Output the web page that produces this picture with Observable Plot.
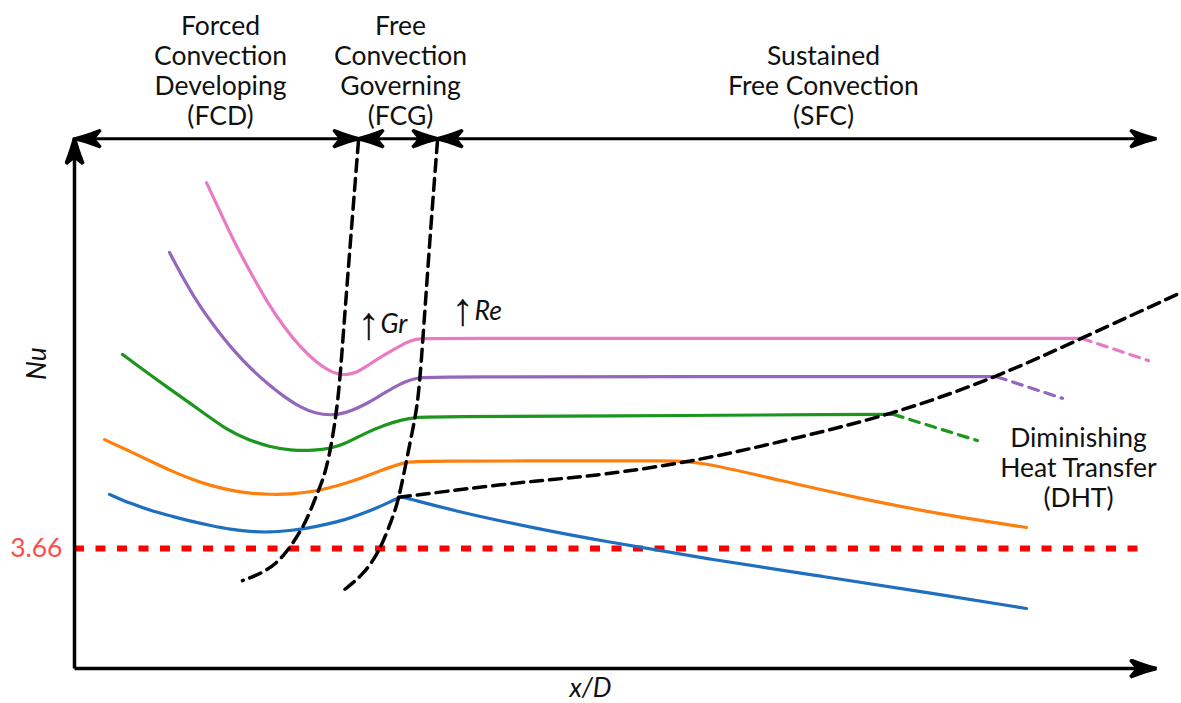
<!DOCTYPE html>
<html><head><meta charset="utf-8">
<script src="https://cdn.jsdelivr.net/npm/d3@7"></script>
<script src="https://cdn.jsdelivr.net/npm/@observablehq/plot@0.6"></script>
<style>html,body{margin:0;padding:0;background:#fff} svg{display:block}</style>
</head><body><div id="chart"></div>
<script>
// ---- schematic data: x/D (arbitrary units) and Nu ----
const pinkX   = [13.2,14.6,15.9,17.6,19.3,20.9,22.6,24.3,25.9,27.1,28.3,29.3,30.9,32.6,33.6,34.6,37.0,62.6,96.0,100.7];
const pinkNu  = [14.82,13.91,13.05,12.08,11.16,10.43,9.79,9.30,9.00,8.94,9.03,9.24,9.55,9.85,10.00,10.07,10.07,10.07,10.07,10.07];
const pinkDashX  = [100.7,107.4];
const pinkDashNu = [10.07,9.39];

const purpleX  = [9.5,11.1,12.6,14.3,15.9,17.6,19.3,20.9,22.6,24.1,25.6,27.1,29.3,30.9,32.6,33.6,34.6,37.0,62.0,88.0,92.2];
const purpleNu = [12.69,11.77,11.01,10.31,9.70,9.15,8.69,8.30,7.96,7.78,7.72,7.78,8.08,8.39,8.69,8.81,8.88,8.90,8.90,8.90,8.90];
const purpleDashX  = [92.2,98.8];
const purpleDashNu = [8.90,8.24];

const greenX  = [4.8,7.1,9.3,12.6,15.3,17.6,19.4,21.6,24.0,25.6,27.1,29.0,31.1,32.8,34.0,36.5,52.6,78.0,81.9];
const greenNu = [9.58,9.06,8.57,7.87,7.26,6.95,6.77,6.65,6.65,6.71,6.86,7.17,7.44,7.59,7.66,7.68,7.70,7.75,7.75];
const greenDashX  = [81.9,90.3];
const greenDashNu = [7.75,6.95];

const orangeX  = [3.0,5.6,7.9,9.8,11.8,13.6,15.6,17.6,19.4,21.6,24.0,25.6,27.1,29.1,30.9,32.1,33.2,35.5,50.0,59.0,62.4,70.6,78.5,86.6,95.2];
const orangeNu = [6.98,6.62,6.28,6.01,5.76,5.58,5.43,5.34,5.31,5.31,5.40,5.52,5.64,5.86,6.07,6.19,6.31,6.33,6.33,6.33,6.33,5.73,5.19,4.70,4.30];

const blueX  = [3.5,5.6,7.9,9.8,11.8,13.6,15.6,17.6,19.4,21.6,23.2,25.1,27.1,28.6,30.1,31.4,32.3,32.6,33.2,38.6,46.2,52.6,63.7,74.8,85.9,95.2];
const blueNu = [5.31,5.03,4.79,4.64,4.48,4.36,4.24,4.18,4.15,4.21,4.27,4.39,4.54,4.70,4.88,5.06,5.19,5.24,5.20,4.76,4.27,3.90,3.32,2.81,2.29,1.83];

// regime boundaries (black dashed)
const fcdX  = [28.4,27.6,26.9,26.4,25.6,25.0,24.4,23.2,22.5,21.5,20.2,18.7,16.8];
const fcdNu = [16.10,13.05,10.31,8.17,6.65,5.89,5.43,4.51,4.15,3.66,3.20,2.90,2.68];
const fcgX  = [36.3,35.6,34.9,34.4,33.8,33.2,32.4,31.7,30.9,30.3,29.0,26.9];
const fcgNu = [16.10,13.36,10.31,8.17,7.26,6.34,5.12,4.51,3.90,3.51,2.90,2.38];
const dhtX  = [32.4,38.6,46.2,52.6,62.4,71.1,81.9,92.2,100.7,110.7];
const dhtNu = [5.22,5.46,5.73,5.89,6.34,6.95,7.75,8.88,10.07,11.47];

// fully developed laminar limit
const limitNu = 3.66;
const limitLabel = "3.66";

// regime bracket along the top
const regimeNames  = ["Forced\nConvection\nDeveloping\n(FCD)", "Free\nConvection\nGoverning\n(FCG)", "Sustained\nFree Convection\n(SFC)"];
const regimeStart  = [0.1, 28.4, 36.3];
const regimeEnd    = [28.4, 36.3, 108.1];
const regimeLabelX = [14.6, 32.6, 74.9];
const bracketNu = 16.16;

// axis extents
const axisXEnd = 108.1;
const axisNuEnd = 16.16;

// annotations
const dhtLabel = "Diminishing\nHeat Transfer\n(DHT)";
const trendArrows = ["↑", "↑"];
const trendNames  = ["Gr", "Re"];
const trendArrowX = [29.4, 38.8];
const trendArrowNu = [10.05, 10.47];
const trendNameX  = [30.6, 40.0];
const trendNu     = [10.22, 10.64];

const series = [
  {x: pinkX, y: pinkNu, color: "#ea7ac3", dash: null},
  {x: pinkDashX, y: pinkDashNu, color: "#ea7ac3", dash: "10,7"},
  {x: purpleX, y: purpleNu, color: "#9467bd", dash: null},
  {x: purpleDashX, y: purpleDashNu, color: "#9467bd", dash: "10,7"},
  {x: greenX, y: greenNu, color: "#1c961c", dash: null},
  {x: greenDashX, y: greenDashNu, color: "#1c961c", dash: "10,7"},
  {x: orangeX, y: orangeNu, color: "#ff7f0e", dash: null},
  {x: blueX, y: blueNu, color: "#1f6fc0", dash: null}
];
const bounds = [
  {x: fcdX, y: fcdNu},
  {x: fcgX, y: fcgNu},
  {x: dhtX, y: dhtNu}
];
const toRows = (xs, ys) => xs.map((x, i) => ({x, y: ys[i]}));

function stealth(color, context) {
  const ns = "http://www.w3.org/2000/svg";
  const doc = context.document;
  const m = doc.createElementNS(ns, "marker");
  m.setAttribute("viewBox", "-27 -10 29 20");
  m.setAttribute("markerWidth", 29);
  m.setAttribute("markerHeight", 20);
  m.setAttribute("markerUnits", "userSpaceOnUse");
  m.setAttribute("refX", 0);
  m.setAttribute("refY", 0);
  m.setAttribute("orient", "auto-start-reverse");
  const p = doc.createElementNS(ns, "path");
  p.setAttribute("d", "M1,0 Q-10,-2.5 -25,-8.5 L-18,0 L-25,8.5 Q-10,2.5 1,0Z");
  p.setAttribute("fill", color);
  m.appendChild(p);
  return m;
}

const font = "Lato, 'Open Sans', sans-serif";
const fs = 26.5;
const marks = [];

// red limit line
marks.push(Plot.ruleY([limitNu], {x1: 0, x2: 107.5, stroke: "#ff0000", strokeWidth: 6, strokeDasharray: "10,11.5"}));

// curves
for (const s of series) {
  marks.push(Plot.line(toRows(s.x, s.y), {x: "x", y: "y", stroke: s.color, strokeWidth: 3.2,
    strokeDasharray: s.dash ?? undefined, curve: s.dash ? "linear" : "basis"}));
}
for (const b of bounds) {
  marks.push(Plot.line(toRows(b.x, b.y), {x: "x", y: "y", stroke: "#000", strokeWidth: 3.5,
    strokeDasharray: "12,7", curve: "basis"}));
}

// axes
marks.push(Plot.link([{x1: 0, y1: 0, x2: 0, y2: axisNuEnd}], {x1: "x1", y1: "y1", x2: "x2", y2: "y2",
  stroke: "#000", strokeWidth: 3.5, markerEnd: stealth}));
marks.push(Plot.link([{x1: 0, y1: 0, x2: axisXEnd, y2: 0}], {x1: "x1", y1: "y1", x2: "x2", y2: "y2",
  stroke: "#000", strokeWidth: 3.5, markerEnd: stealth}));

// regime bracket
const regimes = regimeNames.map((name, i) => ({name, x1: regimeStart[i], x2: regimeEnd[i], lx: regimeLabelX[i]}));
marks.push(Plot.link(regimes, {x1: "x1", x2: "x2", y1: bracketNu, y2: bracketNu,
  stroke: "#000", strokeWidth: 3, markerStart: stealth, markerEnd: stealth}));
marks.push(Plot.text(regimes, {x: "lx", y: 16.59, text: "name", lineAnchor: "bottom",
  fontSize: fs, lineHeight: 1.13, fontFamily: font, fill: "#111"}));

// DHT label
marks.push(Plot.text([dhtLabel], {x: 100.4, y: 4.94, text: d => d, lineAnchor: "bottom",
  fontSize: fs, lineHeight: 1.13, fontFamily: font, fill: "#111"}));

// trend annotations
marks.push(Plot.text(trendArrows, {x: trendArrowX, y: trendArrowNu, text: d => d, lineAnchor: "bottom",
  fontSize: 46, fontFamily: "'Liberation Sans', 'Noto Sans', sans-serif", fill: "#111"}));
marks.push(Plot.text(trendNames, {x: trendNameX, y: trendNu, text: d => d, lineAnchor: "bottom",
  textAnchor: "start", fontSize: fs, fontStyle: "italic", fontFamily: font, fill: "#111"}));

// axis titles and tick label
marks.push(Plot.text(["Nu"], {x: -3.7, y: 9.30, text: d => d, rotate: -90, fontSize: fs,
  fontStyle: "italic", fontFamily: font, fill: "#111"}));
marks.push(Plot.text(["x/D"], {x: 51.6, y: -0.86, text: d => d, lineAnchor: "bottom", fontSize: fs,
  fontStyle: "italic", fontFamily: font, fill: "#111"}));
marks.push(Plot.text([limitLabel], {x: -1.2, y: limitNu, text: d => d, textAnchor: "end", fontSize: fs,
  fontFamily: font, fill: "#ff4d4d"}));

const chart = Plot.plot({
  width: 1181, height: 703,
  marginTop: 0, marginRight: 0, marginBottom: 0, marginLeft: 0,
  x: {domain: [-7.4, 110.7], axis: null},
  y: {domain: [-1.0675, 20.374], axis: null},
  style: {background: "#fff", overflow: "visible"},
  marks
});
document.getElementById("chart").appendChild(chart);
</script>
</body></html>
